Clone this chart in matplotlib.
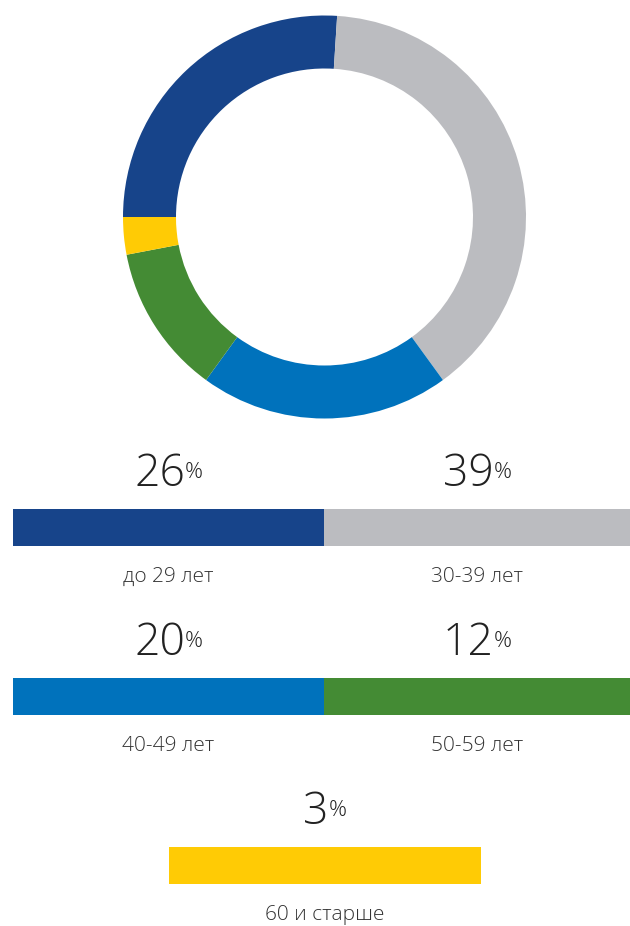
import matplotlib.pyplot as plt

# age groups and shares (%)
labels = ['до 29 лет', '30-39 лет', '40-49 лет', '50-59 лет', '60 и старше']
values = [26, 39, 20, 12, 3]
colors = ['#17448A', '#BBBCC0', '#0072BC', '#448B34', '#FFCB05']

H = 926
plt.rcParams['font.family'] = ['Open Sans', 'DejaVu Sans']

fig = plt.figure(figsize=(6.3, 9.26), dpi=100)
ax = fig.add_axes([0, 0, 1, 1])

# donut
ax.pie(values, colors=colors, startangle=180, counterclock=False,
       center=(324.5, H - 217), radius=201.5,
       wedgeprops=dict(width=53, linewidth=0))
ax.set_xlim(0, 630)
ax.set_ylim(0, H)
ax.set_aspect('equal')
ax.axis('off')

# legend blocks: (x0, x1, bar top)
blocks = [(13, 324, 509), (324, 630, 509),
          (13, 324, 678), (324, 630, 678),
          (169, 481, 847)]
bar_h = 37
txt_color = '#222222'

fig.canvas.draw()
r = fig.canvas.get_renderer()

for (x0, x1, top), lab, val, col in zip(blocks, labels, values, colors):
    ax.barh(H - top - bar_h / 2, x1 - x0, left=x0, height=bar_h, color=col,
            linewidth=0)
    cx = (x0 + x1) / 2
    num = ax.text(cx, H - top + 23, str(val), fontsize=32, fontweight='light',
                  color=txt_color, ha='right', va='baseline')
    pct = ax.text(cx, H - top + 31, '%', fontsize=16, fontweight='light',
                  color=txt_color, ha='left', va='baseline')
    wn = num.get_window_extent(r).width
    wp = pct.get_window_extent(r).width
    gap = 0
    total = wn + gap + wp
    num.set_x(cx - total / 2 + wn)
    pct.set_x(cx - total / 2 + wn + gap)
    ax.text(cx, H - top - bar_h - 36, lab, fontsize=15, fontweight='light',
            color='#333333', ha='center', va='baseline')

fig.savefig('out.png', dpi=100)
